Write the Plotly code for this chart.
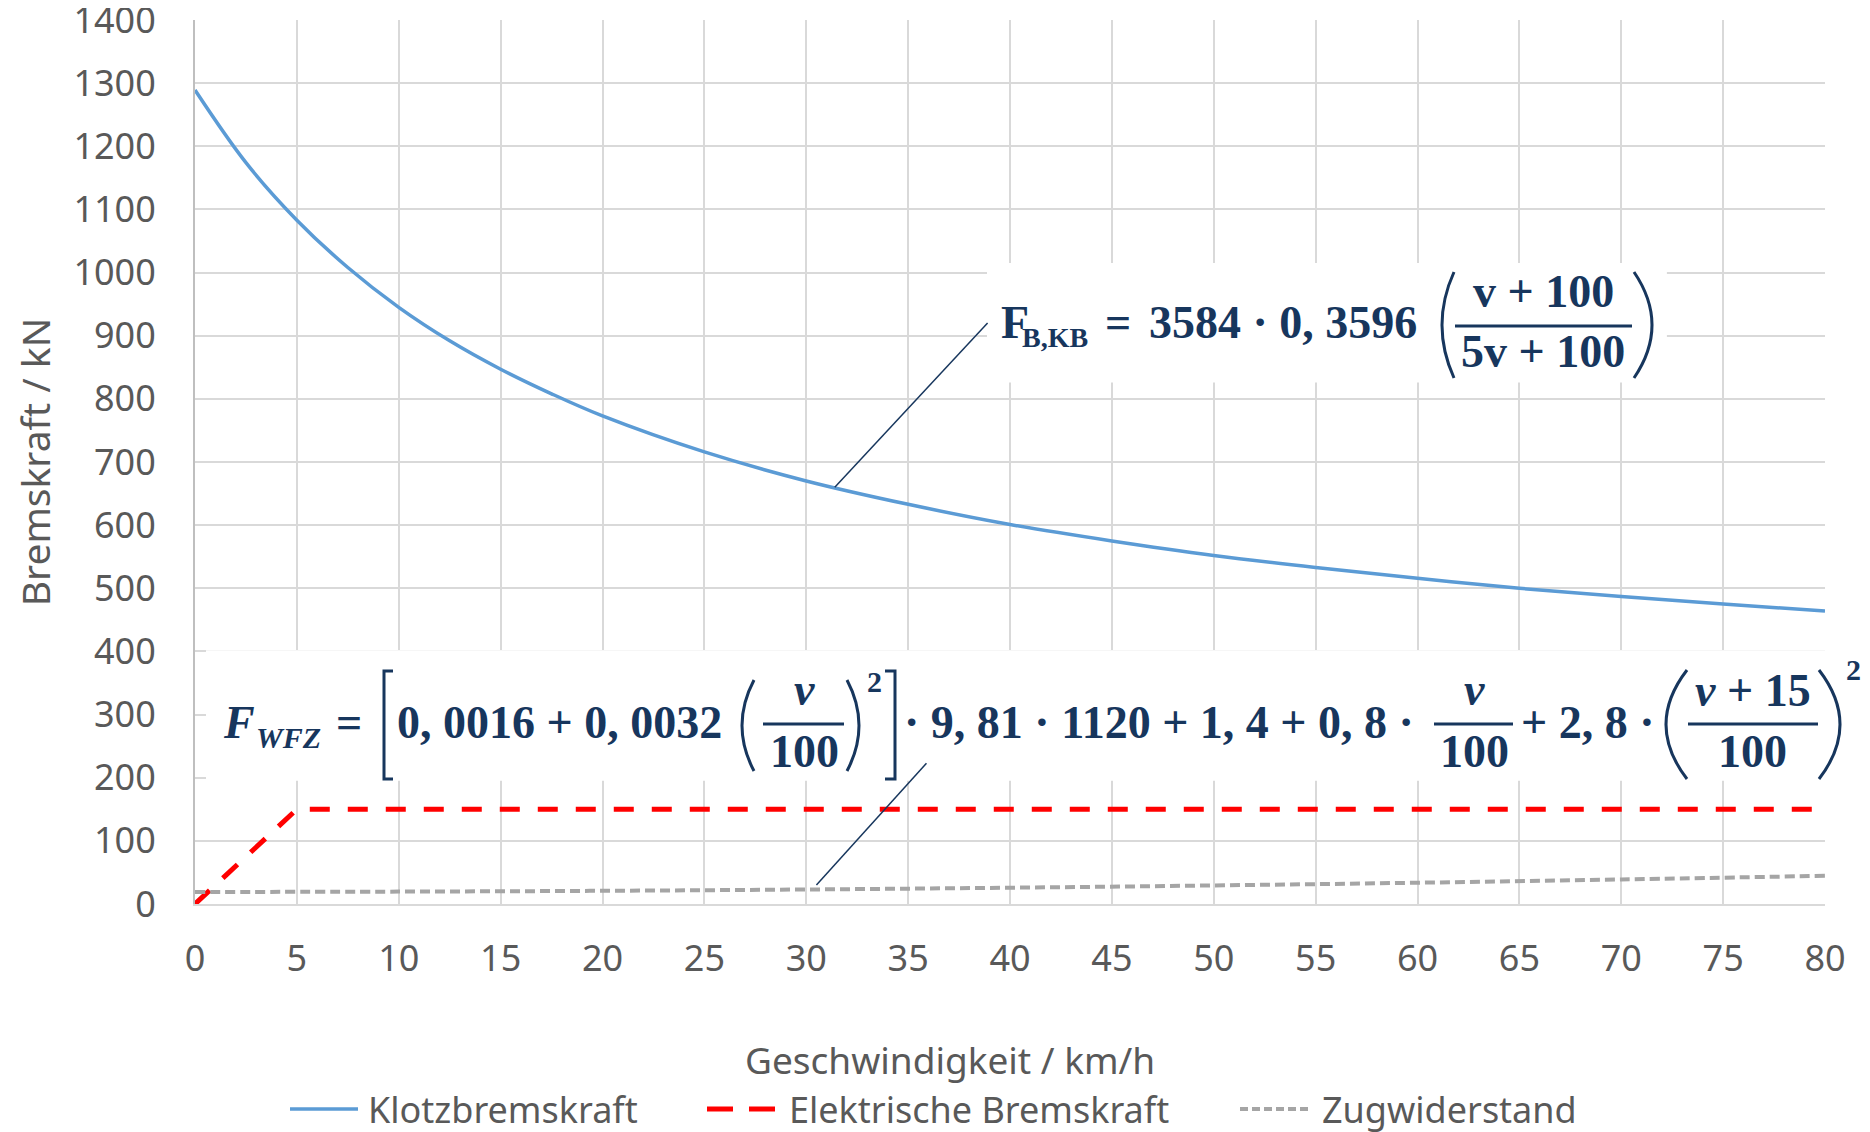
import plotly.graph_objects as go

# Klotzbremskraft (kN) over speed (km/h)
v_klotz = [0, 2.5, 5, 7.5, 10, 12.5, 15, 17.5, 20, 25, 30, 35, 40, 45, 50, 55, 60, 65, 70, 75, 80]
f_klotz = [1289, 1174, 1083, 1008, 945, 892, 847, 808, 773, 716, 670, 633, 601, 575, 552, 533, 516, 500, 487, 475, 464]

# Elektrische Bremskraft
v_el = [0, 5, 80]
f_el = [0, 150, 150]

# Zugwiderstand
v_zug = [0, 10, 20, 30, 40, 50, 60, 70, 80]
f_zug = [19.0, 19.6, 20.9, 23.0, 25.8, 29.4, 33.7, 38.8, 44.7]

x_ticks = list(range(0, 85, 5))
y_ticks = list(range(0, 1500, 100))

GREY_TXT = "#595959"
GRID = "#D9D9D9"
NAVY = "#17365D"
MATH_FONT = "Liberation Serif"
UI_FONT = "Noto Sans"

series = [
    # name, x, y, colour, width, dash, shape, legend sample dash
    ("Klotzbremskraft", v_klotz, f_klotz, "#5B9BD5", 3.5, "solid", "spline", "solid"),
    ("Elektrische Bremskraft", v_el, f_el, "#FF0000", 5, "20px,18px", "linear", "26px,16px"),
    ("Zugwiderstand", v_zug, f_zug, "#A5A5A5", 4, "10px,5px", "spline", "8px,4px"),
]

fig = go.Figure()
for name, xs, ys, col, w, dash, shape, _ in series:
    fig.add_trace(go.Scatter(x=xs, y=ys, name=name, mode="lines",
                             line=dict(color=col, width=w, dash=dash, shape=shape)))

# plot area in page pixels (page body has an 8px margin)
OFF = 8
W_PAGE, H_PAGE = 1870, 1132
L, R, T, B = 195, 1825, 20, 904


def px(x):
    return (x - L) / (R - L)


def py(y):
    return (B - y) / (B - T)


def mtext(x, base, text, size=46, anchor="left"):
    fig.add_annotation(x=px(x), y=py(base - 0.3375 * size), xref="paper", yref="paper",
                       text=text, showarrow=False, xanchor=anchor, yanchor="middle",
                       borderpad=0,
                       font=dict(family=MATH_FONT, size=size, color=NAVY, weight="bold"))


def mline(x0, x1, y, w=3):
    fig.add_shape(type="line", xref="paper", yref="paper", x0=px(x0), x1=px(x1),
                  y0=py(y), y1=py(y), line=dict(color=NAVY, width=w), layer="above")


def paren(tip, bulge, top, bottom):
    xc = 2 * bulge - tip
    mid = (top + bottom) / 2
    path = f"M {px(tip)},{py(top)} Q {px(xc)},{py(mid)} {px(tip)},{py(bottom)}"
    fig.add_shape(type="path", xref="paper", yref="paper", path=path,
                  line=dict(color=NAVY, width=3), layer="above")


def bracket(tip, back, top, bottom):
    path = (f"M {px(tip)},{py(top)} L {px(back)},{py(top)} "
            f"L {px(back)},{py(bottom)} L {px(tip)},{py(bottom)}")
    fig.add_shape(type="path", xref="paper", yref="paper", path=path,
                  line=dict(color=NAVY, width=3), layer="above")


# white boxes behind the formulas (hide the grid)
fig.add_shape(type="rect", xref="x", yref="y", x0=38.87, x1=72.24, y0=826, y1=1015,
              fillcolor="white", line_width=0, layer="between")
fig.add_shape(type="rect", xref="x", yref="y", x0=0.54, x1=82, y0=195, y1=402,
              fillcolor="white", line_width=0, layer="between")

# leader lines
fig.add_shape(type="line", xref="x", yref="y", x0=38.9, y0=920, x1=31.4, y1=660,
              line=dict(color=NAVY, width=1.5))
fig.add_shape(type="line", xref="x", yref="y", x0=35.9, y0=223, x1=30.5, y1=30,
              line=dict(color=NAVY, width=1.5))

# formula 1: F_B,KB = 3584 * 0,3596 * (v+100)/(5v+100)
mtext(1000, 338, "F")
mtext(1021, 347, "B,KB", size=28)
mtext(1118, 338, "=", anchor="center")
mtext(1148, 338, "3584 · 0, 3596")
paren(1454, 1442, 272, 378)
mtext(1543, 307, "v + 100", anchor="center")
mline(1455, 1632, 326)
mtext(1543, 367, "5v + 100", anchor="center")
paren(1634, 1652, 272, 378)

# formula 2: F_WFZ
mtext(222, 738, "<i>F</i>")
mtext(255, 748, "<i>WFZ</i>", size=30)
mtext(349, 738, "=", anchor="center")
bracket(393, 384, 671, 779)
mtext(396, 738, "0, 0016 + 0, 0032")
paren(754, 742, 680, 771)
mtext(804, 705, "<i>v</i>", anchor="center")
mline(763, 844, 724)
mtext(804, 767, "100", anchor="center")
paren(847, 859, 680, 771)
mtext(866, 692, "2", size=30)
bracket(885, 895, 671, 779)
mtext(903, 738, "· 9, 81 · 1120 + 1, 4 + 0, 8 ·")
mtext(1474, 705, "<i>v</i>", anchor="center")
mline(1434, 1513, 724)
mtext(1474, 767, "100", anchor="center")
mtext(1656, 738, "+ 2, 8 ·", anchor="right")
paren(1687, 1666, 670, 779)
mtext(1753, 706, "<i>v</i> + 15", anchor="center")
mline(1688, 1818, 724)
mtext(1752, 767, "100", anchor="center")
paren(1819, 1840, 670, 779)
mtext(1845, 680, "2", size=30)

# x axis title (sits left of the plot centre in the original)
fig.add_annotation(x=px(950), y=py(1059), xref="paper", yref="paper",
                   text="Geschwindigkeit / km/h", showarrow=False,
                   xanchor="center", yanchor="middle",
                   font=dict(family=UI_FONT, size=37, color=GREY_TXT))

# legend drawn below the axis title
legend_pos = [(290, 358, 366), (707, 775, 787), (1240, 1312, 1320)]
for (name, _, _, col, w, _, _, ldash), (x0, x1, xt) in zip(series, legend_pos):
    fig.add_shape(type="line", xref="paper", yref="paper", x0=px(x0), x1=px(x1),
                  y0=py(1109), y1=py(1109), line=dict(color=col, width=w, dash=ldash))
    fig.add_annotation(x=px(xt), y=py(1109), xref="paper", yref="paper", text=name,
                       showarrow=False, xanchor="left", yanchor="middle",
                       font=dict(family=UI_FONT, size=36, color=GREY_TXT))

fig.update_layout(
    width=W_PAGE - OFF, height=H_PAGE - OFF,
    margin=dict(l=L - OFF, r=W_PAGE - R, t=T - OFF, b=H_PAGE - B, autoexpand=False),
    plot_bgcolor="white", paper_bgcolor="white",
    font=dict(family=UI_FONT, size=36, color=GREY_TXT),
    showlegend=False,
    xaxis=dict(range=[0, 80], tickvals=x_ticks, showgrid=True, gridcolor=GRID, gridwidth=1.5,
               zeroline=False, showline=True, linecolor=GRID, linewidth=2,
               ticks="", ticklabelstandoff=22, ticklabeloverflow="allow", automargin=False),
    yaxis=dict(range=[0, 1400], tickvals=y_ticks, showgrid=True, gridcolor=GRID, gridwidth=1.5,
               zeroline=False, showline=True, linecolor="#BFBFBF", linewidth=2,
               ticks="", ticklabelstandoff=30, ticklabeloverflow="allow", automargin=False,
               title=dict(text="Bremskraft / kN", standoff=12,
                          font=dict(size=39, color=GREY_TXT))),
)

fig.write_html("out.html")
